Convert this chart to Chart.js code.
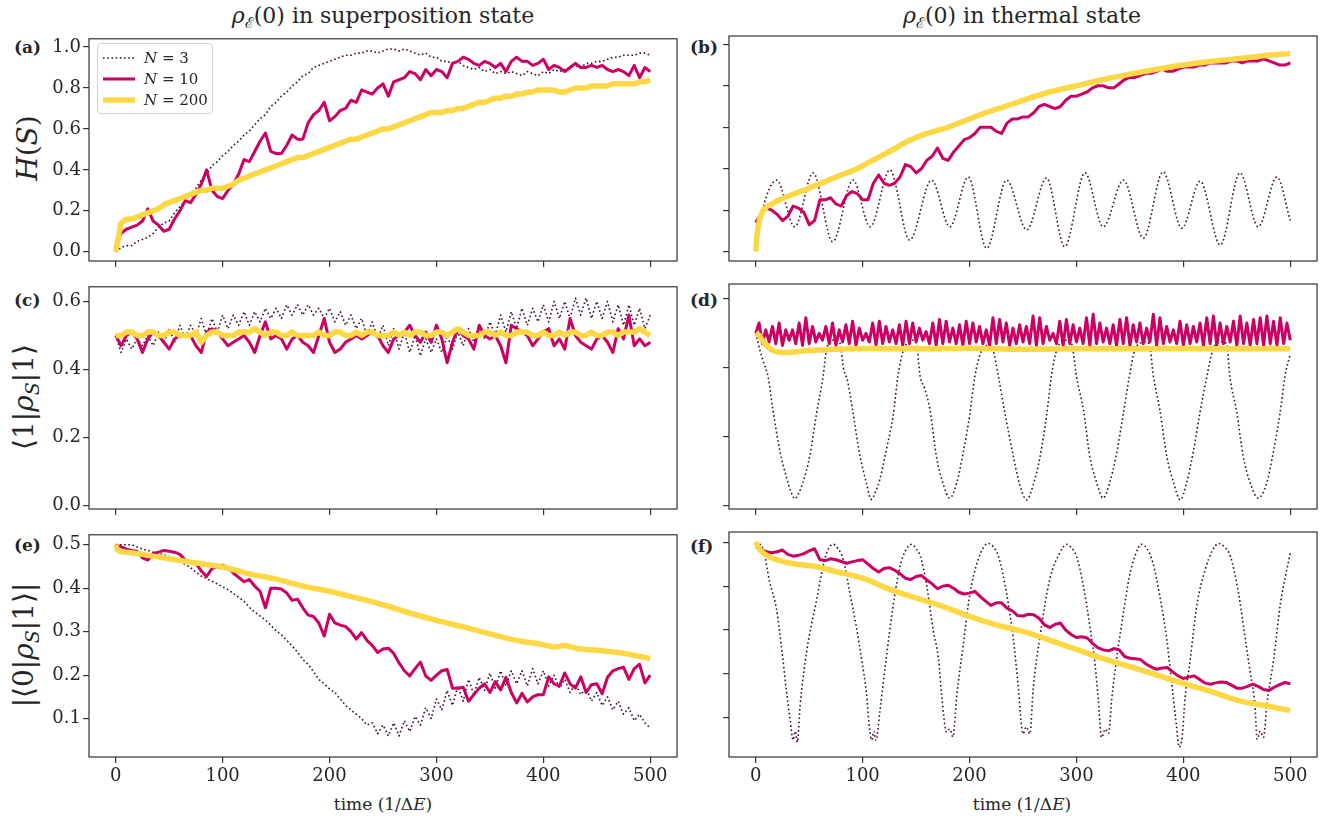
<!DOCTYPE html>
<html>
<head>
<meta charset="utf-8">
<script src="https://cdn.jsdelivr.net/npm/chart.js"></script>
<style>
  body { margin: 0; background: #fff; width: 1321px; height: 817px; position: relative; overflow: hidden;
         font-family: 'DejaVu Serif', serif; color: #262626; }
  canvas { position: absolute; }
  .title { position: absolute; top: 2px; width: 600px; text-align: center; font-size: 22px; line-height: 28px; }
  .plab { position: absolute; font-weight: bold; font-size: 17px; line-height: 20px; }
  .ylab { position: absolute; left: 28px; font-size: 28px; white-space: nowrap; line-height: 32px;
          transform: translate(-50%, -50%) rotate(-90deg); }
  .xlab { position: absolute; top: 793px; width: 400px; text-align: center; font-size: 17px; line-height: 22px; }
  .legend { position: absolute; left: 97px; top: 43px; width: 114px; height: 69px; border: 1px solid #d4d4d4;
            border-radius: 4px; background: rgba(255,255,255,0.85); }
  .lrow { position: absolute; left: 0; height: 20px; width: 114px; }
  .lrow svg { position: absolute; left: 5px; top: 7px; }
  .lrow span { position: absolute; left: 46px; top: 0; font-size: 15px; line-height: 20px; }
  sub { font-size: 0.68em; }
</style>
</head>
<body>

<div class="title" style="left:83px"><i>ρ</i><sub>ℰ</sub>(0) in superposition state</div>
<div class="title" style="left:722px"><i>ρ</i><sub>ℰ</sub>(0) in thermal state</div>

<div class="plab" style="left:14px; top:37px">(a)</div>
<div class="plab" style="left:690px; top:37px">(b)</div>
<div class="plab" style="left:14px; top:290px">(c)</div>
<div class="plab" style="left:690px; top:290px">(d)</div>
<div class="plab" style="left:14px; top:535px">(e)</div>
<div class="plab" style="left:690px; top:536px">(f)</div>

<div class="ylab" style="top:148px"><i>H</i>(<i>S</i>)</div>
<div class="ylab" style="top:397px">⟨1|<i>ρ</i><sub><i>S</i></sub>|1⟩</div>
<div class="ylab" style="top:645px">|⟨0|<i>ρ</i><sub><i>S</i></sub>|1⟩|</div>

<div class="xlab" style="left:183px">time (1/Δ<i>E</i>)</div>
<div class="xlab" style="left:822px">time (1/Δ<i>E</i>)</div>

<canvas id="pa"></canvas>
<canvas id="pb"></canvas>
<canvas id="pc"></canvas>
<canvas id="pd"></canvas>
<canvas id="pe"></canvas>
<canvas id="pf"></canvas>

<div class="legend">
  <div class="lrow" style="top:4px"><svg width="32" height="6"><line x1="0" y1="3" x2="32" y2="3" stroke="#3d0c34" stroke-width="1.6" stroke-dasharray="1.6 2.6"/></svg><span><i>N</i> = 3</span></div>
  <div class="lrow" style="top:25px"><svg width="32" height="6"><line x1="0" y1="3" x2="32" y2="3" stroke="#cc0063" stroke-width="3"/></svg><span><i>N</i> = 10</span></div>
  <div class="lrow" style="top:46px"><svg width="32" height="6"><line x1="0" y1="3" x2="32" y2="3" stroke="#fdd744" stroke-width="5.5"/></svg><span><i>N</i> = 200</span></div>
</div>

<script>
// time grids
const tGrid = Array.from({length: 101}, (_, i) => i * 5);
const tFast = Array.from({length: 161}, (_, i) => i * 3.125);

// ticks
const xTicks = [0, 100, 200, 300, 400, 500];
const yTicksH = [0, 0.2, 0.4, 0.6, 0.8, 1.0];
const yTicksPop = [0, 0.2, 0.4, 0.6];
const yTicksCoh = [0.1, 0.2, 0.3, 0.4, 0.5];

// (a) H(S), superposition
const aN3 = [0.00,0.02,0.03,0.03,0.05,0.06,0.07,0.09,0.12,0.14,
  0.15,0.19,0.22,0.25,0.28,0.31,0.35,0.38,0.42,0.44,
  0.47,0.49,0.52,0.54,0.57,0.59,0.62,0.65,0.67,0.71,
  0.73,0.76,0.78,0.81,0.83,0.86,0.87,0.90,0.91,0.92,
  0.93,0.94,0.95,0.96,0.96,0.97,0.97,0.98,0.98,0.97,
  0.98,0.99,0.99,0.98,0.99,0.98,0.97,0.96,0.97,0.95,
  0.95,0.93,0.93,0.92,0.93,0.91,0.90,0.89,0.90,0.88,
  0.89,0.87,0.88,0.87,0.88,0.87,0.86,0.88,0.87,0.86,
  0.88,0.87,0.89,0.88,0.89,0.90,0.91,0.90,0.92,0.92,
  0.93,0.93,0.94,0.95,0.95,0.96,0.96,0.96,0.97,0.97,
  0.96];
const aN10 = [0.03,0.09,0.11,0.12,0.13,0.15,0.21,0.15,0.13,0.10,
  0.11,0.16,0.20,0.25,0.24,0.28,0.33,0.40,0.30,0.27,
  0.26,0.30,0.33,0.38,0.45,0.44,0.49,0.54,0.58,0.49,
  0.48,0.48,0.52,0.57,0.55,0.55,0.63,0.67,0.69,0.73,
  0.64,0.66,0.69,0.70,0.74,0.73,0.79,0.78,0.77,0.80,
  0.82,0.76,0.83,0.84,0.85,0.88,0.87,0.84,0.89,0.86,
  0.89,0.88,0.85,0.92,0.93,0.95,0.94,0.92,0.91,0.93,
  0.92,0.90,0.92,0.88,0.93,0.95,0.93,0.93,0.91,0.92,
  0.94,0.89,0.91,0.90,0.88,0.90,0.92,0.90,0.90,0.91,
  0.90,0.91,0.89,0.88,0.89,0.88,0.86,0.91,0.85,0.90,
  0.88];
const aN200 = [0.00,0.14,0.16,0.16,0.17,0.18,0.19,0.20,0.21,0.23,
  0.24,0.25,0.26,0.27,0.28,0.29,0.30,0.30,0.31,0.31,
  0.31,0.32,0.33,0.35,0.36,0.37,0.38,0.39,0.40,0.41,
  0.42,0.43,0.44,0.45,0.46,0.46,0.47,0.48,0.49,0.50,
  0.51,0.52,0.53,0.54,0.55,0.55,0.56,0.57,0.58,0.59,
  0.60,0.60,0.61,0.62,0.63,0.64,0.65,0.66,0.67,0.68,
  0.68,0.68,0.69,0.69,0.70,0.70,0.71,0.72,0.73,0.73,
  0.74,0.75,0.75,0.76,0.76,0.77,0.77,0.78,0.78,0.79,
  0.79,0.79,0.79,0.78,0.78,0.79,0.80,0.80,0.80,0.81,
  0.81,0.81,0.81,0.82,0.82,0.82,0.82,0.82,0.83,0.83,
  0.84];

// (b) H(S), thermal
const bN3T = [0,4,19.5,36.5,53.7,72,91,107,125.5,144,164.5,181.6,198.8,216,234.7,
  253.5,272,289,308,325,344,362.6,381,398.6,415.7,434.5,453,470,487.5,500];
const bN3 = [0.02,0.15,0.345,0.12,0.38,0.048,0.345,0.12,0.394,0.056,0.345,0.12,0.36,0.016,0.345,
  0.105,0.355,0.024,0.38,0.12,0.345,0.065,0.385,0.113,0.34,0.032,0.38,0.12,0.36,0.15];
const bN10 = [0.14,0.18,0.21,0.20,0.18,0.15,0.17,0.22,0.21,0.19,
  0.13,0.15,0.25,0.25,0.26,0.23,0.22,0.27,0.29,0.28,
  0.25,0.25,0.33,0.37,0.33,0.32,0.33,0.36,0.42,0.41,
  0.38,0.40,0.44,0.46,0.50,0.45,0.44,0.48,0.51,0.54,
  0.55,0.57,0.60,0.60,0.60,0.58,0.57,0.62,0.64,0.64,
  0.65,0.65,0.67,0.70,0.71,0.70,0.69,0.70,0.73,0.75,
  0.75,0.76,0.77,0.79,0.80,0.80,0.79,0.79,0.81,0.83,
  0.84,0.84,0.85,0.86,0.86,0.87,0.88,0.87,0.87,0.88,
  0.89,0.89,0.89,0.90,0.90,0.91,0.91,0.91,0.91,0.92,
  0.92,0.91,0.92,0.92,0.92,0.93,0.92,0.91,0.90,0.90,
  0.91];
const bN200T = [0,1,2,4,7,10,16,22,29,38,47,56,66,75,85,95,104,113,122,131,
  141,150,160,170,180,190,200,215,230,250,275,300,325,350,375,400,425,450,475,500];
const bN200 = [0,0.07,0.11,0.16,0.20,0.215,0.233,0.25,0.265,0.283,0.30,0.32,0.34,0.36,0.38,0.40,0.426,0.45,0.475,0.50,
  0.53,0.55,0.57,0.585,0.60,0.62,0.64,0.67,0.695,0.73,0.77,0.80,0.83,0.856,0.88,0.90,0.917,0.93,0.945,0.955];

// (c) <1|rho|1>, superposition
const cN3 = [0.50,0.45,0.49,0.46,0.49,0.47,0.50,0.47,0.51,0.48,
  0.52,0.48,0.53,0.49,0.53,0.50,0.55,0.50,0.55,0.51,
  0.56,0.52,0.56,0.53,0.57,0.53,0.57,0.54,0.58,0.55,
  0.58,0.55,0.59,0.56,0.59,0.56,0.59,0.56,0.58,0.55,
  0.58,0.54,0.57,0.53,0.56,0.52,0.55,0.50,0.54,0.49,
  0.53,0.47,0.52,0.46,0.51,0.45,0.50,0.44,0.49,0.45,
  0.49,0.45,0.50,0.46,0.51,0.47,0.52,0.48,0.53,0.49,
  0.54,0.50,0.56,0.51,0.57,0.52,0.58,0.53,0.58,0.54,
  0.59,0.54,0.60,0.55,0.60,0.55,0.61,0.56,0.61,0.55,
  0.60,0.55,0.60,0.54,0.59,0.53,0.59,0.53,0.58,0.52,
  0.56];
const cN10 = [0.50,0.47,0.50,0.51,0.49,0.45,0.49,0.51,0.50,0.48,
  0.46,0.49,0.50,0.50,0.50,0.47,0.45,0.51,0.52,0.51,
  0.49,0.47,0.48,0.49,0.50,0.48,0.45,0.50,0.54,0.49,
  0.50,0.49,0.46,0.49,0.50,0.48,0.47,0.45,0.50,0.55,
  0.48,0.45,0.46,0.48,0.49,0.50,0.49,0.50,0.51,0.50,
  0.47,0.45,0.49,0.50,0.51,0.53,0.50,0.48,0.51,0.48,
  0.53,0.49,0.42,0.48,0.52,0.50,0.49,0.46,0.53,0.50,
  0.49,0.50,0.47,0.42,0.53,0.52,0.51,0.50,0.47,0.49,
  0.51,0.52,0.47,0.49,0.46,0.55,0.50,0.48,0.47,0.46,
  0.49,0.50,0.48,0.45,0.52,0.49,0.56,0.47,0.49,0.47,
  0.48];
const cN200 = [0.50,0.50,0.51,0.51,0.50,0.50,0.51,0.51,0.50,0.50,
  0.51,0.51,0.50,0.50,0.50,0.51,0.48,0.50,0.51,0.51,
  0.50,0.50,0.50,0.51,0.51,0.51,0.52,0.51,0.50,0.51,
  0.51,0.50,0.50,0.51,0.50,0.50,0.50,0.50,0.51,0.50,
  0.50,0.51,0.51,0.50,0.50,0.51,0.50,0.51,0.51,0.50,
  0.50,0.50,0.51,0.50,0.51,0.50,0.51,0.51,0.50,0.50,
  0.51,0.51,0.50,0.51,0.52,0.51,0.50,0.50,0.50,0.51,
  0.51,0.50,0.51,0.50,0.50,0.51,0.51,0.51,0.50,0.50,
  0.51,0.50,0.50,0.51,0.50,0.51,0.51,0.50,0.50,0.51,
  0.50,0.50,0.51,0.51,0.50,0.51,0.51,0.51,0.52,0.51,
  0.50];

// (d) <1|rho|1>, thermal
const dN3T = [0,4,8,11.5,16,22.5,28.5,33,36.5,40,44,50.5,57,63,66,69,74,79,82,86,
  91,97,103.5,108,112,116,122,128.5,133,138,144,147,150.5,153.5,158,163,169,175,181.5,188,
  194,200,205,210,214,218,222,227,233,241,247,253.5,259.5,266,272,276.5,281.5,286,291,295.5,
  300,306.5,312.5,319,325,331,337,343.5,349.5,354.5,359,363.5,368,372,378,384.5,391,397,403,409.5,
  415.5,422,426.5,431,436,440.5,443.5,450,456,462.5,470,478,484,490.5,495,500];
const dN3 = [0.50,0.45,0.41,0.375,0.28,0.16,0.085,0.04,0.02,0.035,0.066,0.143,0.27,0.375,0.45,0.475,0.48,0.47,0.40,0.36,
  0.27,0.153,0.066,0.018,0.04,0.075,0.16,0.26,0.375,0.45,0.476,0.48,0.47,0.38,0.34,0.278,0.143,0.066,0.022,0.066,
  0.153,0.26,0.375,0.44,0.46,0.465,0.452,0.375,0.27,0.143,0.06,0.017,0.06,0.143,0.26,0.375,0.452,0.476,0.48,0.47,
  0.375,0.278,0.143,0.066,0.022,0.066,0.143,0.26,0.375,0.452,0.47,0.475,0.47,0.375,0.278,0.143,0.066,0.017,0.066,0.16,
  0.27,0.375,0.44,0.47,0.475,0.47,0.375,0.27,0.143,0.066,0.022,0.066,0.153,0.27,0.375,0.44];
const dN10 = [0.50,
  0.53,0.47, 0.51,0.475, 0.52,0.47, 0.53,0.465, 0.51,0.48, 0.51,0.47, 0.53,0.465, 0.545,0.47, 0.52,0.475, 0.50,0.48,
  0.52,0.47, 0.53,0.465, 0.51,0.475, 0.525,0.47, 0.535,0.465, 0.515,0.48, 0.50,0.475, 0.53,0.465, 0.535,0.47, 0.52,0.475,
  0.51,0.47, 0.525,0.465, 0.535,0.47, 0.53,0.475, 0.515,0.48, 0.505,0.47, 0.53,0.465, 0.54,0.47, 0.535,0.475, 0.515,0.47,
  0.525,0.465, 0.535,0.47, 0.53,0.475, 0.52,0.47, 0.51,0.465, 0.545,0.47, 0.54,0.475, 0.53,0.465, 0.515,0.47, 0.525,0.475,
  0.52,0.47, 0.55,0.465, 0.545,0.47, 0.52,0.48, 0.50,0.47, 0.535,0.465, 0.54,0.47, 0.525,0.475, 0.515,0.47, 0.545,0.465,
  0.555,0.47, 0.53,0.475, 0.515,0.47, 0.525,0.465, 0.54,0.47, 0.545,0.465, 0.525,0.475, 0.53,0.47, 0.515,0.475, 0.555,0.465,
  0.545,0.47, 0.52,0.475, 0.51,0.47, 0.535,0.465, 0.525,0.47, 0.52,0.475, 0.53,0.465, 0.545,0.47, 0.55,0.465, 0.53,0.47,
  0.52,0.475, 0.535,0.465, 0.55,0.47, 0.53,0.465, 0.54,0.47, 0.545,0.465, 0.55,0.47, 0.535,0.465, 0.545,0.47, 0.53,0.48];
const dN200T = [0,3,6,10,15,20,25,35,50,75,100,150,200,250,300,350,400,450,500];
const dN200 = [0.50,0.495,0.48,0.465,0.452,0.446,0.444,0.446,0.450,0.454,0.456,0.455,0.457,0.454,0.455,0.455,0.456,0.455,0.455];

// (e) |<0|rho|1>|, superposition
const eN3 = [0.50,0.50,0.50,0.50,0.495,0.49,0.487,0.483,0.48,0.477,
  0.473,0.468,0.462,0.455,0.447,0.437,0.428,0.422,0.416,0.41,
  0.403,0.397,0.388,0.379,0.37,0.356,0.345,0.336,0.327,0.315,
  0.302,0.293,0.28,0.267,0.253,0.236,0.225,0.208,0.19,0.18,
  0.168,0.16,0.145,0.13,0.12,0.11,0.10,0.085,0.09,0.065,
  0.085,0.06,0.09,0.06,0.095,0.07,0.105,0.085,0.125,0.10,
  0.145,0.12,0.165,0.13,0.175,0.14,0.19,0.155,0.195,0.165,
  0.205,0.17,0.21,0.175,0.21,0.18,0.21,0.175,0.215,0.18,
  0.21,0.175,0.20,0.17,0.19,0.16,0.18,0.155,0.17,0.14,
  0.16,0.13,0.15,0.12,0.14,0.11,0.125,0.095,0.11,0.09,
  0.078];
const eN10 = [0.50,0.495,0.49,0.487,0.485,0.47,0.465,0.48,0.483,0.487,
  0.485,0.483,0.478,0.465,0.46,0.457,0.44,0.427,0.445,0.45,
  0.453,0.447,0.435,0.425,0.415,0.42,0.405,0.393,0.355,0.40,
  0.40,0.398,0.389,0.372,0.375,0.355,0.338,0.335,0.32,0.29,
  0.34,0.32,0.315,0.312,0.30,0.283,0.298,0.28,0.268,0.252,
  0.26,0.262,0.25,0.228,0.21,0.198,0.215,0.23,0.198,0.188,
  0.20,0.21,0.213,0.17,0.17,0.172,0.14,0.155,0.17,0.18,
  0.16,0.185,0.166,0.195,0.16,0.136,0.158,0.138,0.15,0.155,
  0.155,0.196,0.18,0.175,0.205,0.18,0.17,0.196,0.16,0.178,
  0.18,0.157,0.195,0.21,0.215,0.218,0.19,0.215,0.225,0.182,
  0.20];
const eN200T = [0,2,10,25,50,75,100,125,150,175,200,225,250,275,300,325,350,375,400,410,420,430,450,475,500];
const eN200 = [0.50,0.487,0.483,0.478,0.468,0.458,0.449,0.433,0.421,0.405,0.393,0.378,0.362,0.343,0.326,0.311,0.295,0.28,0.27,0.265,0.268,0.262,0.257,0.25,0.238];

// (f) |<0|rho|1>|, thermal
const fN3T = [0,7,13,19.5,24,28.5,32,35,37,39,41.5,47.5,57,63,67,72.5,77,82,88,94,
  99,103.5,106.5,108.5,110.5,112.5,116,122,128.5,135,140,146,150,154,160,166,171,174,178.5,181.5,
  184.5,188,194,200,208,217.5,222,227,234.5,241,245.5,250,253,256.5,259.5,266,275,284.5,291,295,
  300,306.5,312.5,317.5,320.5,323.5,327,330,333,337.5,344,349.5,355,360.5,366,371.5,378,384.5,389,393.5,
  396,399,401.5,406.5,412.5,420.5,427,433,438,444,451.5,458,462.5,467,469,472,475,478,484.5,490.5,500];
const fN3 = [0.50,0.483,0.41,0.347,0.264,0.166,0.1,0.05,0.07,0.045,0.128,0.249,0.37,0.445,0.48,0.495,0.485,0.46,0.385,0.309,
  0.234,0.158,0.075,0.05,0.07,0.049,0.113,0.234,0.355,0.445,0.48,0.495,0.485,0.468,0.40,0.30,0.234,0.15,0.068,0.075,
  0.057,0.15,0.264,0.377,0.46,0.497,0.49,0.468,0.385,0.279,0.173,0.064,0.08,0.064,0.166,0.287,0.415,0.476,0.495,0.488,
  0.468,0.40,0.309,0.219,0.14,0.056,0.075,0.065,0.143,0.234,0.34,0.422,0.47,0.495,0.485,0.453,0.377,0.279,0.181,0.083,
  0.034,0.06,0.143,0.234,0.355,0.438,0.48,0.497,0.49,0.468,0.385,0.279,0.204,0.128,0.052,0.07,0.056,0.128,0.234,0.355,0.476];
const fN10 = [0.49,0.482,0.478,0.476,0.478,0.482,0.472,0.468,0.47,0.474,
  0.48,0.485,0.46,0.458,0.462,0.46,0.456,0.452,0.455,0.458,
  0.46,0.45,0.44,0.432,0.44,0.442,0.436,0.428,0.418,0.415,
  0.422,0.424,0.414,0.405,0.394,0.40,0.402,0.395,0.386,0.382,
  0.384,0.388,0.376,0.366,0.356,0.362,0.362,0.35,0.344,0.333,
  0.332,0.336,0.335,0.327,0.312,0.306,0.313,0.316,0.30,0.29,
  0.283,0.285,0.282,0.27,0.26,0.255,0.253,0.258,0.255,0.24,
  0.236,0.235,0.233,0.223,0.216,0.211,0.214,0.215,0.205,0.196,
  0.19,0.193,0.196,0.188,0.18,0.177,0.18,0.182,0.181,0.175,
  0.168,0.168,0.172,0.177,0.172,0.165,0.163,0.17,0.176,0.181,
  0.178];
const fN200T = [0,2,5,10,15,20,30,40,55,75,100,125,150,175,200,225,250,275,300,325,350,375,400,425,450,475,500];
const fN200 = [0.50,0.49,0.48,0.47,0.464,0.46,0.453,0.449,0.445,0.433,0.418,0.393,0.373,0.354,0.331,0.312,0.297,0.277,0.256,0.235,0.217,0.198,0.179,0.161,0.141,0.129,0.117];

const C3 = '#3d0c34', C10 = '#cc0063', C200 = '#fdd744';
const AXIS = '#333333', TXT = '#262626';

function pts(t, v) { return v.map((y, i) => ({x: t[i], y: y})); }

const framePlugin = {
  id: 'frame',
  afterDraw(chart) {
    const {ctx, chartArea: a} = chart;
    ctx.save();
    ctx.strokeStyle = AXIS;
    ctx.lineWidth = 1.2;
    ctx.strokeRect(a.left, a.top, a.right - a.left, a.bottom - a.top);
    ctx.restore();
  }
};

const FRAME_W = 588, FRAME_H = 225, YW = 70, PADT = 10, PADR = 10, XH = 40;

function panel(id, frameLeft, frameTop, sets, yTicks, yMin, yMax, showY, showX) {
  const cv = document.getElementById(id);
  const w = YW + FRAME_W + PADR, h = PADT + FRAME_H + XH;
  cv.width = w; cv.height = h;
  cv.style.width = w + 'px'; cv.style.height = h + 'px';
  cv.style.left = (frameLeft - YW) + 'px';
  cv.style.top = (frameTop - PADT) + 'px';

  const datasets = [
    { label: 'N = 3', data: pts(sets[0][0], sets[0][1]), borderColor: C3, borderWidth: 1.6,
      borderDash: [1.6, 2.6], order: 2, cubicInterpolationMode: sets[0][2] ? 'monotone' : 'default' },
    { label: 'N = 10', data: pts(sets[1][0], sets[1][1]), borderColor: C10, borderWidth: 3, order: 1,
      cubicInterpolationMode: 'default' },
    { label: 'N = 200', data: pts(sets[2][0], sets[2][1]), borderColor: C200, borderWidth: 5.5, order: 0,
      cubicInterpolationMode: sets[2][2] ? 'monotone' : 'default' }
  ].map(d => Object.assign(d, { pointRadius: 0, tension: 0, fill: false, borderJoinStyle: 'round' }));

  const tickFont = { family: 'DejaVu Serif', size: 18 };
  new Chart(cv, {
    type: 'line',
    data: { datasets },
    options: {
      responsive: false, animation: false, devicePixelRatio: 1,
      layout: { padding: { top: PADT, right: PADR, left: 0, bottom: 0 } },
      plugins: { legend: { display: false }, tooltip: { enabled: false } },
      scales: {
        x: {
          type: 'linear', min: -25, max: 525,
          afterBuildTicks: s => { s.ticks = xTicks.map(v => ({ value: v })); },
          afterFit: s => { s.height = XH; },
          grid: { drawOnChartArea: false, drawTicks: true, tickLength: 6, color: AXIS, lineWidth: 1.2 },
          border: { display: false },
          ticks: { display: showX, font: tickFont, color: TXT, padding: 3, maxRotation: 0, autoSkip: false,
                   callback: v => String(v) }
        },
        y: {
          type: 'linear', min: yMin, max: yMax,
          afterBuildTicks: s => { s.ticks = yTicks.map(v => ({ value: v })); },
          afterFit: s => { s.width = YW; },
          grid: { drawOnChartArea: false, drawTicks: true, tickLength: 6, color: AXIS, lineWidth: 1.2 },
          border: { display: false },
          ticks: { display: showY, font: tickFont, color: TXT, padding: 2, autoSkip: false,
                   callback: v => v.toFixed(1) }
        }
      }
    },
    plugins: [framePlugin]
  });
}

const L = 89, R = 729, T1 = 36, T2 = 284, T3 = 532;
const yH = [-0.045, 1.04], yP = [-0.0096, 0.643], yC = [0.0115, 0.523];

panel('pa', L, T1, [[tGrid, aN3], [tGrid, aN10], [tGrid, aN200]], yTicksH, yH[0], yH[1], true, false);
panel('pb', R, T1, [[bN3T, bN3, true], [tGrid, bN10], [bN200T, bN200, true]], yTicksH, yH[0], yH[1], false, false);
panel('pc', L, T2, [[tGrid, cN3], [tGrid, cN10], [tGrid, cN200]], yTicksPop, yP[0], yP[1], true, false);
panel('pd', R, T2, [[dN3T, dN3, true], [tFast, dN10], [dN200T, dN200, true]], yTicksPop, yP[0], yP[1], false, false);
panel('pe', L, T3, [[tGrid, eN3], [tGrid, eN10], [eN200T, eN200, true]], yTicksCoh, yC[0], yC[1], true, true);
panel('pf', R, T3, [[fN3T, fN3, true], [tGrid, fN10], [fN200T, fN200, true]], yTicksCoh, yC[0], yC[1], false, true);
</script>
</body>
</html>
